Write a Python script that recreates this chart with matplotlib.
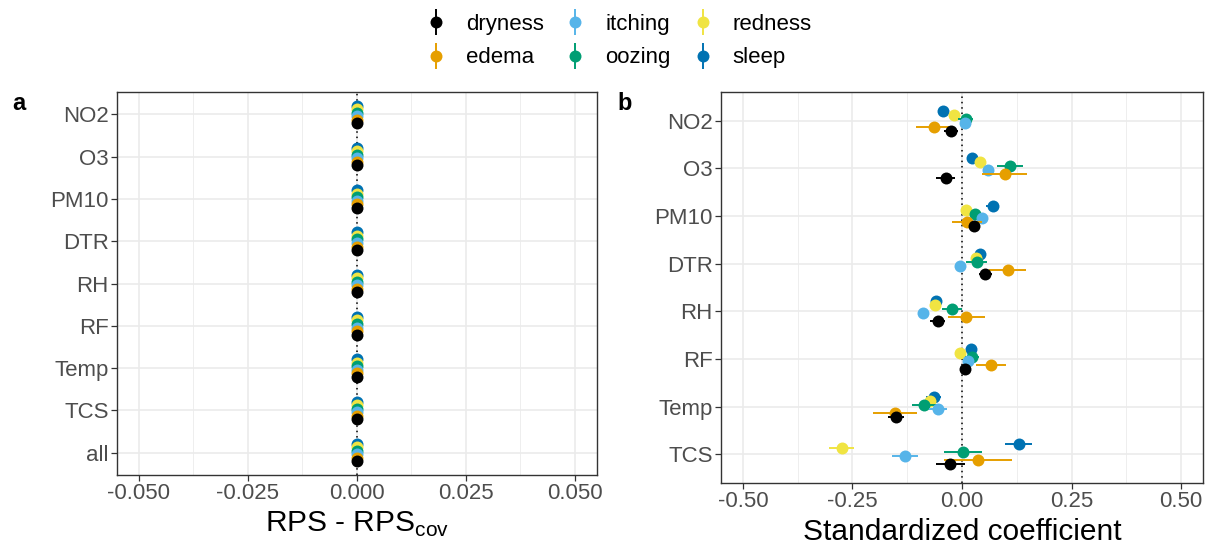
"""
Forest-style comparison of RPS difference and standardized coefficients
by environmental covariate and symptom.
"""

import matplotlib
matplotlib.use("Agg")
import matplotlib.pyplot as plt
from matplotlib.lines import Line2D
from matplotlib.legend_handler import HandlerTuple
from matplotlib.ticker import MultipleLocator

plt.rcParams["font.family"] = ["Liberation Sans", "DejaVu Sans"]
plt.rcParams["mathtext.fontset"] = "custom"
plt.rcParams["mathtext.rm"] = "Liberation Sans"

# outcomes (alphabetical, bottom to top within each covariate)
outcomes = ["dryness", "edema", "itching", "oozing", "redness", "sleep"]
colors = ["#000000", "#E69F00", "#56B4E9", "#009E73", "#F0E442", "#0072B2"]

# panel a: covariates, top to bottom
covars_a = ["NO2", "O3", "PM10", "DTR", "RH", "RF", "Temp", "TCS", "all"]
rps_dryness = [0.0, 0.0, 0.0, 0.0, 0.0, 0.0, 0.0, 0.0, 0.0]
rps_edema = [0.0, 0.0, 0.0, 0.0, 0.0, 0.0, 0.0, 0.0, 0.0]
rps_itching = [0.0, 0.0, 0.0, 0.0, 0.0, 0.0, 0.0, 0.0, 0.0]
rps_oozing = [0.0, 0.0, 0.0, 0.0, 0.0, 0.0, 0.0, 0.0, 0.0]
rps_redness = [0.0, 0.0, 0.0, 0.0, 0.0, 0.0, 0.0, 0.0, 0.0]
rps_sleep = [0.0, 0.0, 0.0, 0.0, 0.0, 0.0, 0.0, 0.0, 0.0]

# panel b: covariates, top to bottom
covars_b = ["NO2", "O3", "PM10", "DTR", "RH", "RF", "Temp", "TCS"]
coef_dryness = [-0.025, -0.037, 0.028, 0.053, -0.055, 0.006, -0.151, -0.027]
ci_dryness = [0.015, 0.022, 0.012, 0.015, 0.017, 0.010, 0.019, 0.033]
coef_edema = [-0.063, 0.097, 0.012, 0.104, 0.010, 0.066, -0.153, 0.037]
ci_edema = [0.043, 0.052, 0.034, 0.042, 0.043, 0.034, 0.050, 0.078]
coef_itching = [0.007, 0.060, 0.046, -0.004, -0.088, 0.014, -0.055, -0.130]
ci_itching = [0.010, 0.012, 0.012, 0.010, 0.012, 0.012, 0.020, 0.029]
coef_oozing = [0.008, 0.110, 0.030, 0.034, -0.022, 0.023, -0.086, 0.002]
ci_oozing = [0.018, 0.029, 0.012, 0.024, 0.023, 0.016, 0.028, 0.043]
coef_redness = [-0.018, 0.040, 0.009, 0.032, -0.061, -0.005, -0.072, -0.275]
ci_redness = [0.010, 0.010, 0.010, 0.010, 0.010, 0.010, 0.012, 0.029]
coef_sleep = [-0.043, 0.023, 0.070, 0.042, -0.059, 0.021, -0.065, 0.129]
ci_sleep = [0.012, 0.012, 0.015, 0.012, 0.012, 0.010, 0.018, 0.031]

rps_vals = [rps_dryness, rps_edema, rps_itching, rps_oozing, rps_redness, rps_sleep]
coef_vals = [coef_dryness, coef_edema, coef_itching, coef_oozing, coef_redness, coef_sleep]
ci_vals = [ci_dryness, ci_edema, ci_itching, ci_oozing, ci_redness, ci_sleep]

GRID = "#EBEBEB"
DODGE = 0.5


def style_axis(ax, labels, pad):
    n = len(labels)
    ax.set_yticks(range(1, n + 1))
    ax.set_yticklabels(labels[::-1])
    ax.set_ylim(1 - pad, n + pad)
    ax.grid(True, which="major", color=GRID, lw=1.2, zorder=0)
    ax.grid(True, which="minor", axis="x", color=GRID, lw=0.6, zorder=0)
    ax.set_axisbelow(True)
    ax.axvline(0, color="black", ls=(0, (1, 2.5)), lw=1.1, zorder=1)
    for sp in ax.spines.values():
        sp.set_color("#333333")
        sp.set_linewidth(1.0)
    ax.tick_params(which="major", length=4, width=0.9, color="#333333",
                   labelsize=16, labelcolor="#4D4D4D", pad=2)
    ax.tick_params(which="minor", length=0)


def dodge(i, n=6):
    return (i - (n - 1) / 2) * DODGE / n


fig = plt.figure(figsize=(12.1, 5.44), dpi=100)
ax_a = fig.add_axes([0.0967, 0.1268, 0.3963, 0.7041])
ax_b = fig.add_axes([0.5959, 0.1121, 0.3983, 0.7188])

# panel a
n_a = len(covars_a)
for i in reversed(range(len(outcomes))):
    ys = [n_a - k + dodge(i) for k in range(n_a)]
    ax_a.plot(rps_vals[i], ys, "o", ms=8.6, color=colors[i], mew=0, zorder=3 + (5 - i))
ax_a.set_xlim(-0.055, 0.055)
ax_a.xaxis.set_minor_locator(MultipleLocator(0.0125))
ax_a.set_xticks([-0.05, -0.025, 0.0, 0.025, 0.05])
ax_a.set_xticklabels(["-0.050", "-0.025", "0.000", "0.025", "0.050"])
style_axis(ax_a, covars_a, 0.53)
ax_a.set_xlabel(r"RPS - RPS$_{\mathregular{cov}}$", fontsize=21.5, labelpad=4)

# panel b
n_b = len(covars_b)
for i in reversed(range(len(outcomes))):
    ys = [n_b - k + dodge(i) for k in range(n_b)]
    ax_b.errorbar(coef_vals[i], ys, xerr=ci_vals[i], fmt="o", ms=8.6, color=colors[i],
                  mew=0, elinewidth=1.4, capsize=0, zorder=3 + (5 - i))
ax_b.set_xlim(-0.55, 0.55)
ax_b.set_xticks([-0.5, -0.25, 0.0, 0.25, 0.5])
ax_b.set_xticklabels(["-0.50", "-0.25", "0.00", "0.25", "0.50"])
ax_b.xaxis.set_minor_locator(MultipleLocator(0.125))
style_axis(ax_b, covars_b, 0.6)
ax_b.set_xlabel("Standardized coefficient", fontsize=21.5, labelpad=4)

fig.text(0.0099, 0.797, "a", fontsize=17, fontweight="bold")
fig.text(0.5099, 0.797, "b", fontsize=17, fontweight="bold")

handles = []
for c in colors:
    bar = Line2D([], [], marker="|", ms=18.7, mew=1.4, color=c, ls="none")
    dot = Line2D([], [], marker="o", ms=8.6, mew=0, color=c, ls="none")
    handles.append((bar, dot))
fig.legend(handles, outcomes, loc="upper left", bbox_to_anchor=(0.351, 0.974),
           ncol=3, frameon=False, fontsize=16, borderpad=0, borderaxespad=0,
           handlelength=1.0, handletextpad=0.85, columnspacing=0.93,
           labelspacing=0.55, handler_map={tuple: HandlerTuple(ndivide=1)})

fig.savefig("out.png", dpi=100)
